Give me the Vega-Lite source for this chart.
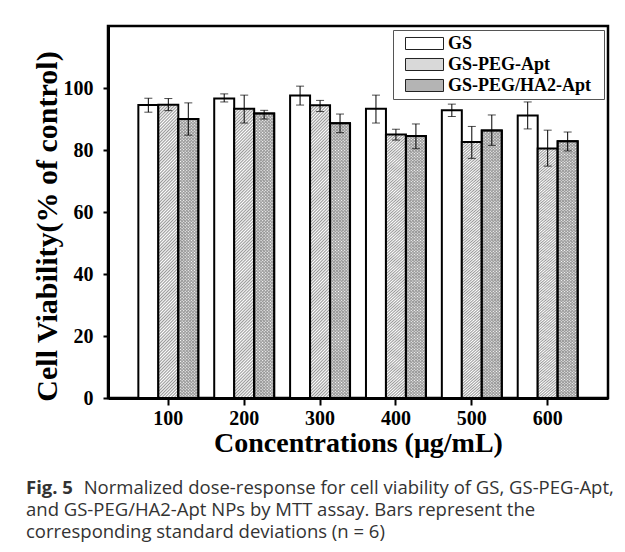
{
  "$schema": "https://vega.github.io/schema/vega-lite/v6.json",
  "width": 500,
  "height": 372,
  "autosize": "none",
  "padding": {"left": 108, "top": 26, "right": 17, "bottom": 154},
  "background": "white",
  "title": {
    "text": "Fig. 5",
    "subtitle": ["\u200b\u00a0\u00a0\u00a0\u00a0\u00a0\u00a0\u00a0\u00a0\u00a0\u00a0\u00a0\u00a0Normalized dose-response for cell viability of GS, GS-PEG-Apt,", "and GS-PEG/HA2-Apt NPs by MTT assay. Bars represent the", "corresponding standard deviations (n = 6)"],
    "orient": "bottom",
    "anchor": "start",
    "frame": "group",
    "dx": -82,
    "offset": 22,
    "font": "Open Sans",
    "fontSize": 18.5,
    "fontWeight": "bold",
    "color": "#333",
    "subtitleFont": "Open Sans",
    "subtitleFontSize": 18.5,
    "subtitleFontWeight": "normal",
    "subtitleColor": "#333",
    "subtitleLineHeight": 21.8,
    "subtitlePadding": -18.5
  },
  "datasets": {
    "d": [
      {"conc": "100", "series": "GS", "v": 94.5, "lo": 92.2, "hi": 96.7},
      {"conc": "100", "series": "GS-PEG-Apt", "v": 94.6, "lo": 92.7, "hi": 96.6},
      {"conc": "100", "series": "GS-PEG/HA2-Apt", "v": 90.0, "lo": 84.8, "hi": 95.2},
      {"conc": "200", "series": "GS", "v": 96.6, "lo": 95.5, "hi": 98.1},
      {"conc": "200", "series": "GS-PEG-Apt", "v": 93.3, "lo": 88.7, "hi": 97.7},
      {"conc": "200", "series": "GS-PEG/HA2-Apt", "v": 91.8, "lo": 90.0, "hi": 92.8},
      {"conc": "300", "series": "GS", "v": 97.6, "lo": 94.5, "hi": 100.6},
      {"conc": "300", "series": "GS-PEG-Apt", "v": 94.4, "lo": 92.4, "hi": 96.0},
      {"conc": "300", "series": "GS-PEG/HA2-Apt", "v": 88.6, "lo": 85.6, "hi": 91.6},
      {"conc": "400", "series": "GS", "v": 93.3, "lo": 88.7, "hi": 97.7},
      {"conc": "400", "series": "GS-PEG-Apt", "v": 85.0, "lo": 83.2, "hi": 86.7},
      {"conc": "400", "series": "GS-PEG/HA2-Apt", "v": 84.5, "lo": 80.4, "hi": 88.4},
      {"conc": "500", "series": "GS", "v": 92.8, "lo": 90.8, "hi": 94.8},
      {"conc": "500", "series": "GS-PEG-Apt", "v": 82.6, "lo": 77.3, "hi": 87.6},
      {"conc": "500", "series": "GS-PEG/HA2-Apt", "v": 86.3, "lo": 81.5, "hi": 91.3},
      {"conc": "600", "series": "GS", "v": 91.1, "lo": 86.8, "hi": 95.5},
      {"conc": "600", "series": "GS-PEG-Apt", "v": 80.5, "lo": 74.8, "hi": 86.4},
      {"conc": "600", "series": "GS-PEG/HA2-Apt", "v": 82.8, "lo": 79.7, "hi": 85.8}
    ]
  },
  "data": {"name": "d"},
  "encoding": {
    "x": {
      "field": "conc",
      "type": "nominal",
      "title": "Concentrations (μg/mL)",
      "scale": {"paddingInner": 0.21, "paddingOuter": 0.4},
      "axis": {"bandPosition": 0.5}
    },
    "xOffset": {
      "field": "series",
      "type": "nominal",
      "scale": {"domain": ["GS", "GS-PEG-Apt", "GS-PEG/HA2-Apt"], "paddingInner": 0, "paddingOuter": 0}
    }
  },
  "layer": [
    {
      "mark": {"type": "bar", "stroke": "black", "strokeWidth": 2},
      "encoding": {
        "y": {
          "field": "v",
          "type": "quantitative",
          "title": "Cell Viability(% of control)",
          "scale": {"domain": [0, 120], "nice": false},
          "axis": {"values": [0, 10, 20, 30, 40, 50, 60, 70, 80, 90, 100, 110], "labelExpr": "datum.value % 20 === 0 ? datum.label : ''", "titleY": 200}
        },
        "fill": {
          "condition": [
            {"test": "datum.series === 'GS-PEG-Apt'", "value": {"gradient": "linear", "x1": 0, "y1": 0, "x2": 0.0734, "y2": 1.064, "stops": [
{"offset":0,"color":"#fff"},{"offset":0.005,"color":"#999"},{"offset":0.01,"color":"#fff"},{"offset":0.015,"color":"#999"},{"offset":0.02,"color":"#fff"},{"offset":0.025,"color":"#999"},{"offset":0.03,"color":"#fff"},{"offset":0.035,"color":"#999"},{"offset":0.04,"color":"#fff"},{"offset":0.045,"color":"#999"},
{"offset":0.05,"color":"#fff"},{"offset":0.055,"color":"#999"},{"offset":0.06,"color":"#fff"},{"offset":0.065,"color":"#999"},{"offset":0.07,"color":"#fff"},{"offset":0.075,"color":"#999"},{"offset":0.08,"color":"#fff"},{"offset":0.085,"color":"#999"},{"offset":0.09,"color":"#fff"},{"offset":0.095,"color":"#999"},
{"offset":0.1,"color":"#fff"},{"offset":0.105,"color":"#999"},{"offset":0.11,"color":"#fff"},{"offset":0.115,"color":"#999"},{"offset":0.12,"color":"#fff"},{"offset":0.125,"color":"#999"},{"offset":0.13,"color":"#fff"},{"offset":0.135,"color":"#999"},{"offset":0.14,"color":"#fff"},{"offset":0.145,"color":"#999"},
{"offset":0.15,"color":"#fff"},{"offset":0.155,"color":"#999"},{"offset":0.16,"color":"#fff"},{"offset":0.165,"color":"#999"},{"offset":0.17,"color":"#fff"},{"offset":0.175,"color":"#999"},{"offset":0.18,"color":"#fff"},{"offset":0.185,"color":"#999"},{"offset":0.19,"color":"#fff"},{"offset":0.195,"color":"#999"},
{"offset":0.2,"color":"#fff"},{"offset":0.205,"color":"#999"},{"offset":0.21,"color":"#fff"},{"offset":0.215,"color":"#999"},{"offset":0.22,"color":"#fff"},{"offset":0.225,"color":"#999"},{"offset":0.23,"color":"#fff"},{"offset":0.235,"color":"#999"},{"offset":0.24,"color":"#fff"},{"offset":0.245,"color":"#999"},
{"offset":0.25,"color":"#fff"},{"offset":0.255,"color":"#999"},{"offset":0.26,"color":"#fff"},{"offset":0.265,"color":"#999"},{"offset":0.27,"color":"#fff"},{"offset":0.275,"color":"#999"},{"offset":0.28,"color":"#fff"},{"offset":0.285,"color":"#999"},{"offset":0.29,"color":"#fff"},{"offset":0.295,"color":"#999"},
{"offset":0.3,"color":"#fff"},{"offset":0.305,"color":"#999"},{"offset":0.31,"color":"#fff"},{"offset":0.315,"color":"#999"},{"offset":0.32,"color":"#fff"},{"offset":0.325,"color":"#999"},{"offset":0.33,"color":"#fff"},{"offset":0.335,"color":"#999"},{"offset":0.34,"color":"#fff"},{"offset":0.345,"color":"#999"},
{"offset":0.35,"color":"#fff"},{"offset":0.355,"color":"#999"},{"offset":0.36,"color":"#fff"},{"offset":0.365,"color":"#999"},{"offset":0.37,"color":"#fff"},{"offset":0.375,"color":"#999"},{"offset":0.38,"color":"#fff"},{"offset":0.385,"color":"#999"},{"offset":0.39,"color":"#fff"},{"offset":0.395,"color":"#999"},
{"offset":0.4,"color":"#fff"},{"offset":0.405,"color":"#999"},{"offset":0.41,"color":"#fff"},{"offset":0.415,"color":"#999"},{"offset":0.42,"color":"#fff"},{"offset":0.425,"color":"#999"},{"offset":0.43,"color":"#fff"},{"offset":0.435,"color":"#999"},{"offset":0.44,"color":"#fff"},{"offset":0.445,"color":"#999"},
{"offset":0.45,"color":"#fff"},{"offset":0.455,"color":"#999"},{"offset":0.46,"color":"#fff"},{"offset":0.465,"color":"#999"},{"offset":0.47,"color":"#fff"},{"offset":0.475,"color":"#999"},{"offset":0.48,"color":"#fff"},{"offset":0.485,"color":"#999"},{"offset":0.49,"color":"#fff"},{"offset":0.495,"color":"#999"},
{"offset":0.5,"color":"#fff"},{"offset":0.505,"color":"#999"},{"offset":0.51,"color":"#fff"},{"offset":0.515,"color":"#999"},{"offset":0.52,"color":"#fff"},{"offset":0.525,"color":"#999"},{"offset":0.53,"color":"#fff"},{"offset":0.535,"color":"#999"},{"offset":0.54,"color":"#fff"},{"offset":0.545,"color":"#999"},
{"offset":0.55,"color":"#fff"},{"offset":0.555,"color":"#999"},{"offset":0.56,"color":"#fff"},{"offset":0.565,"color":"#999"},{"offset":0.57,"color":"#fff"},{"offset":0.575,"color":"#999"},{"offset":0.58,"color":"#fff"},{"offset":0.585,"color":"#999"},{"offset":0.59,"color":"#fff"},{"offset":0.595,"color":"#999"},
{"offset":0.6,"color":"#fff"},{"offset":0.605,"color":"#999"},{"offset":0.61,"color":"#fff"},{"offset":0.615,"color":"#999"},{"offset":0.62,"color":"#fff"},{"offset":0.625,"color":"#999"},{"offset":0.63,"color":"#fff"},{"offset":0.635,"color":"#999"},{"offset":0.64,"color":"#fff"},{"offset":0.645,"color":"#999"},
{"offset":0.65,"color":"#fff"},{"offset":0.655,"color":"#999"},{"offset":0.66,"color":"#fff"},{"offset":0.665,"color":"#999"},{"offset":0.67,"color":"#fff"},{"offset":0.675,"color":"#999"},{"offset":0.68,"color":"#fff"},{"offset":0.685,"color":"#999"},{"offset":0.69,"color":"#fff"},{"offset":0.695,"color":"#999"},
{"offset":0.7,"color":"#fff"},{"offset":0.705,"color":"#999"},{"offset":0.71,"color":"#fff"},{"offset":0.715,"color":"#999"},{"offset":0.72,"color":"#fff"},{"offset":0.725,"color":"#999"},{"offset":0.73,"color":"#fff"},{"offset":0.735,"color":"#999"},{"offset":0.74,"color":"#fff"},{"offset":0.745,"color":"#999"},
{"offset":0.75,"color":"#fff"},{"offset":0.755,"color":"#999"},{"offset":0.76,"color":"#fff"},{"offset":0.765,"color":"#999"},{"offset":0.77,"color":"#fff"},{"offset":0.775,"color":"#999"},{"offset":0.78,"color":"#fff"},{"offset":0.785,"color":"#999"},{"offset":0.79,"color":"#fff"},{"offset":0.795,"color":"#999"},
{"offset":0.8,"color":"#fff"},{"offset":0.805,"color":"#999"},{"offset":0.81,"color":"#fff"},{"offset":0.815,"color":"#999"},{"offset":0.82,"color":"#fff"},{"offset":0.825,"color":"#999"},{"offset":0.83,"color":"#fff"},{"offset":0.835,"color":"#999"},{"offset":0.84,"color":"#fff"},{"offset":0.845,"color":"#999"},
{"offset":0.85,"color":"#fff"},{"offset":0.855,"color":"#999"},{"offset":0.86,"color":"#fff"},{"offset":0.865,"color":"#999"},{"offset":0.87,"color":"#fff"},{"offset":0.875,"color":"#999"},{"offset":0.88,"color":"#fff"},{"offset":0.885,"color":"#999"},{"offset":0.89,"color":"#fff"},{"offset":0.895,"color":"#999"},
{"offset":0.9,"color":"#fff"},{"offset":0.905,"color":"#999"},{"offset":0.91,"color":"#fff"},{"offset":0.915,"color":"#999"},{"offset":0.92,"color":"#fff"},{"offset":0.925,"color":"#999"},{"offset":0.93,"color":"#fff"},{"offset":0.935,"color":"#999"},{"offset":0.94,"color":"#fff"},{"offset":0.945,"color":"#999"},
{"offset":0.95,"color":"#fff"},{"offset":0.955,"color":"#999"},{"offset":0.96,"color":"#fff"},{"offset":0.965,"color":"#999"},{"offset":0.97,"color":"#fff"},{"offset":0.975,"color":"#999"},{"offset":0.98,"color":"#fff"},{"offset":0.985,"color":"#999"},{"offset":0.99,"color":"#fff"},{"offset":0.995,"color":"#999"},
{"offset":1,"color":"#fff"}]}},
            {"test": "datum.series === 'GS-PEG/HA2-Apt'", "value": {"gradient": "linear", "x1": 0, "y1": 0, "x2": 0.0734, "y2": 1.064, "stops": [
{"offset":0,"color":"#fff"},{"offset":0.005,"color":"#999"},{"offset":0.01,"color":"#fff"},{"offset":0.015,"color":"#999"},{"offset":0.02,"color":"#fff"},{"offset":0.025,"color":"#999"},{"offset":0.03,"color":"#fff"},{"offset":0.035,"color":"#999"},{"offset":0.04,"color":"#fff"},{"offset":0.045,"color":"#999"},
{"offset":0.05,"color":"#fff"},{"offset":0.055,"color":"#999"},{"offset":0.06,"color":"#fff"},{"offset":0.065,"color":"#999"},{"offset":0.07,"color":"#fff"},{"offset":0.075,"color":"#999"},{"offset":0.08,"color":"#fff"},{"offset":0.085,"color":"#999"},{"offset":0.09,"color":"#fff"},{"offset":0.095,"color":"#999"},
{"offset":0.1,"color":"#fff"},{"offset":0.105,"color":"#999"},{"offset":0.11,"color":"#fff"},{"offset":0.115,"color":"#999"},{"offset":0.12,"color":"#fff"},{"offset":0.125,"color":"#999"},{"offset":0.13,"color":"#fff"},{"offset":0.135,"color":"#999"},{"offset":0.14,"color":"#fff"},{"offset":0.145,"color":"#999"},
{"offset":0.15,"color":"#fff"},{"offset":0.155,"color":"#999"},{"offset":0.16,"color":"#fff"},{"offset":0.165,"color":"#999"},{"offset":0.17,"color":"#fff"},{"offset":0.175,"color":"#999"},{"offset":0.18,"color":"#fff"},{"offset":0.185,"color":"#999"},{"offset":0.19,"color":"#fff"},{"offset":0.195,"color":"#999"},
{"offset":0.2,"color":"#fff"},{"offset":0.205,"color":"#999"},{"offset":0.21,"color":"#fff"},{"offset":0.215,"color":"#999"},{"offset":0.22,"color":"#fff"},{"offset":0.225,"color":"#999"},{"offset":0.23,"color":"#fff"},{"offset":0.235,"color":"#999"},{"offset":0.24,"color":"#fff"},{"offset":0.245,"color":"#999"},
{"offset":0.25,"color":"#fff"},{"offset":0.255,"color":"#999"},{"offset":0.26,"color":"#fff"},{"offset":0.265,"color":"#999"},{"offset":0.27,"color":"#fff"},{"offset":0.275,"color":"#999"},{"offset":0.28,"color":"#fff"},{"offset":0.285,"color":"#999"},{"offset":0.29,"color":"#fff"},{"offset":0.295,"color":"#999"},
{"offset":0.3,"color":"#fff"},{"offset":0.305,"color":"#999"},{"offset":0.31,"color":"#fff"},{"offset":0.315,"color":"#999"},{"offset":0.32,"color":"#fff"},{"offset":0.325,"color":"#999"},{"offset":0.33,"color":"#fff"},{"offset":0.335,"color":"#999"},{"offset":0.34,"color":"#fff"},{"offset":0.345,"color":"#999"},
{"offset":0.35,"color":"#fff"},{"offset":0.355,"color":"#999"},{"offset":0.36,"color":"#fff"},{"offset":0.365,"color":"#999"},{"offset":0.37,"color":"#fff"},{"offset":0.375,"color":"#999"},{"offset":0.38,"color":"#fff"},{"offset":0.385,"color":"#999"},{"offset":0.39,"color":"#fff"},{"offset":0.395,"color":"#999"},
{"offset":0.4,"color":"#fff"},{"offset":0.405,"color":"#999"},{"offset":0.41,"color":"#fff"},{"offset":0.415,"color":"#999"},{"offset":0.42,"color":"#fff"},{"offset":0.425,"color":"#999"},{"offset":0.43,"color":"#fff"},{"offset":0.435,"color":"#999"},{"offset":0.44,"color":"#fff"},{"offset":0.445,"color":"#999"},
{"offset":0.45,"color":"#fff"},{"offset":0.455,"color":"#999"},{"offset":0.46,"color":"#fff"},{"offset":0.465,"color":"#999"},{"offset":0.47,"color":"#fff"},{"offset":0.475,"color":"#999"},{"offset":0.48,"color":"#fff"},{"offset":0.485,"color":"#999"},{"offset":0.49,"color":"#fff"},{"offset":0.495,"color":"#999"},
{"offset":0.5,"color":"#fff"},{"offset":0.505,"color":"#999"},{"offset":0.51,"color":"#fff"},{"offset":0.515,"color":"#999"},{"offset":0.52,"color":"#fff"},{"offset":0.525,"color":"#999"},{"offset":0.53,"color":"#fff"},{"offset":0.535,"color":"#999"},{"offset":0.54,"color":"#fff"},{"offset":0.545,"color":"#999"},
{"offset":0.55,"color":"#fff"},{"offset":0.555,"color":"#999"},{"offset":0.56,"color":"#fff"},{"offset":0.565,"color":"#999"},{"offset":0.57,"color":"#fff"},{"offset":0.575,"color":"#999"},{"offset":0.58,"color":"#fff"},{"offset":0.585,"color":"#999"},{"offset":0.59,"color":"#fff"},{"offset":0.595,"color":"#999"},
{"offset":0.6,"color":"#fff"},{"offset":0.605,"color":"#999"},{"offset":0.61,"color":"#fff"},{"offset":0.615,"color":"#999"},{"offset":0.62,"color":"#fff"},{"offset":0.625,"color":"#999"},{"offset":0.63,"color":"#fff"},{"offset":0.635,"color":"#999"},{"offset":0.64,"color":"#fff"},{"offset":0.645,"color":"#999"},
{"offset":0.65,"color":"#fff"},{"offset":0.655,"color":"#999"},{"offset":0.66,"color":"#fff"},{"offset":0.665,"color":"#999"},{"offset":0.67,"color":"#fff"},{"offset":0.675,"color":"#999"},{"offset":0.68,"color":"#fff"},{"offset":0.685,"color":"#999"},{"offset":0.69,"color":"#fff"},{"offset":0.695,"color":"#999"},
{"offset":0.7,"color":"#fff"},{"offset":0.705,"color":"#999"},{"offset":0.71,"color":"#fff"},{"offset":0.715,"color":"#999"},{"offset":0.72,"color":"#fff"},{"offset":0.725,"color":"#999"},{"offset":0.73,"color":"#fff"},{"offset":0.735,"color":"#999"},{"offset":0.74,"color":"#fff"},{"offset":0.745,"color":"#999"},
{"offset":0.75,"color":"#fff"},{"offset":0.755,"color":"#999"},{"offset":0.76,"color":"#fff"},{"offset":0.765,"color":"#999"},{"offset":0.77,"color":"#fff"},{"offset":0.775,"color":"#999"},{"offset":0.78,"color":"#fff"},{"offset":0.785,"color":"#999"},{"offset":0.79,"color":"#fff"},{"offset":0.795,"color":"#999"},
{"offset":0.8,"color":"#fff"},{"offset":0.805,"color":"#999"},{"offset":0.81,"color":"#fff"},{"offset":0.815,"color":"#999"},{"offset":0.82,"color":"#fff"},{"offset":0.825,"color":"#999"},{"offset":0.83,"color":"#fff"},{"offset":0.835,"color":"#999"},{"offset":0.84,"color":"#fff"},{"offset":0.845,"color":"#999"},
{"offset":0.85,"color":"#fff"},{"offset":0.855,"color":"#999"},{"offset":0.86,"color":"#fff"},{"offset":0.865,"color":"#999"},{"offset":0.87,"color":"#fff"},{"offset":0.875,"color":"#999"},{"offset":0.88,"color":"#fff"},{"offset":0.885,"color":"#999"},{"offset":0.89,"color":"#fff"},{"offset":0.895,"color":"#999"},
{"offset":0.9,"color":"#fff"},{"offset":0.905,"color":"#999"},{"offset":0.91,"color":"#fff"},{"offset":0.915,"color":"#999"},{"offset":0.92,"color":"#fff"},{"offset":0.925,"color":"#999"},{"offset":0.93,"color":"#fff"},{"offset":0.935,"color":"#999"},{"offset":0.94,"color":"#fff"},{"offset":0.945,"color":"#999"},
{"offset":0.95,"color":"#fff"},{"offset":0.955,"color":"#999"},{"offset":0.96,"color":"#fff"},{"offset":0.965,"color":"#999"},{"offset":0.97,"color":"#fff"},{"offset":0.975,"color":"#999"},{"offset":0.98,"color":"#fff"},{"offset":0.985,"color":"#999"},{"offset":0.99,"color":"#fff"},{"offset":0.995,"color":"#999"},
{"offset":1,"color":"#fff"}]}}
          ],
          "value": "white"
        }
      }
    },
    {
      "transform": [{"filter": "datum.series === 'GS-PEG/HA2-Apt'"}],
      "mark": {"type": "bar", "stroke": "black", "strokeWidth": 2, "fill": {"gradient": "linear", "x1": 0, "y1": 1, "x2": 0.0734, "y2": -0.064, "stops": [
{"offset":0,"color":"rgba(153,153,153,0)"},{"offset":0.005,"color":"#999"},{"offset":0.01,"color":"rgba(153,153,153,0)"},{"offset":0.015,"color":"#999"},{"offset":0.02,"color":"rgba(153,153,153,0)"},{"offset":0.025,"color":"#999"},{"offset":0.03,"color":"rgba(153,153,153,0)"},{"offset":0.035,"color":"#999"},{"offset":0.04,"color":"rgba(153,153,153,0)"},{"offset":0.045,"color":"#999"},
{"offset":0.05,"color":"rgba(153,153,153,0)"},{"offset":0.055,"color":"#999"},{"offset":0.06,"color":"rgba(153,153,153,0)"},{"offset":0.065,"color":"#999"},{"offset":0.07,"color":"rgba(153,153,153,0)"},{"offset":0.075,"color":"#999"},{"offset":0.08,"color":"rgba(153,153,153,0)"},{"offset":0.085,"color":"#999"},{"offset":0.09,"color":"rgba(153,153,153,0)"},{"offset":0.095,"color":"#999"},
{"offset":0.1,"color":"rgba(153,153,153,0)"},{"offset":0.105,"color":"#999"},{"offset":0.11,"color":"rgba(153,153,153,0)"},{"offset":0.115,"color":"#999"},{"offset":0.12,"color":"rgba(153,153,153,0)"},{"offset":0.125,"color":"#999"},{"offset":0.13,"color":"rgba(153,153,153,0)"},{"offset":0.135,"color":"#999"},{"offset":0.14,"color":"rgba(153,153,153,0)"},{"offset":0.145,"color":"#999"},
{"offset":0.15,"color":"rgba(153,153,153,0)"},{"offset":0.155,"color":"#999"},{"offset":0.16,"color":"rgba(153,153,153,0)"},{"offset":0.165,"color":"#999"},{"offset":0.17,"color":"rgba(153,153,153,0)"},{"offset":0.175,"color":"#999"},{"offset":0.18,"color":"rgba(153,153,153,0)"},{"offset":0.185,"color":"#999"},{"offset":0.19,"color":"rgba(153,153,153,0)"},{"offset":0.195,"color":"#999"},
{"offset":0.2,"color":"rgba(153,153,153,0)"},{"offset":0.205,"color":"#999"},{"offset":0.21,"color":"rgba(153,153,153,0)"},{"offset":0.215,"color":"#999"},{"offset":0.22,"color":"rgba(153,153,153,0)"},{"offset":0.225,"color":"#999"},{"offset":0.23,"color":"rgba(153,153,153,0)"},{"offset":0.235,"color":"#999"},{"offset":0.24,"color":"rgba(153,153,153,0)"},{"offset":0.245,"color":"#999"},
{"offset":0.25,"color":"rgba(153,153,153,0)"},{"offset":0.255,"color":"#999"},{"offset":0.26,"color":"rgba(153,153,153,0)"},{"offset":0.265,"color":"#999"},{"offset":0.27,"color":"rgba(153,153,153,0)"},{"offset":0.275,"color":"#999"},{"offset":0.28,"color":"rgba(153,153,153,0)"},{"offset":0.285,"color":"#999"},{"offset":0.29,"color":"rgba(153,153,153,0)"},{"offset":0.295,"color":"#999"},
{"offset":0.3,"color":"rgba(153,153,153,0)"},{"offset":0.305,"color":"#999"},{"offset":0.31,"color":"rgba(153,153,153,0)"},{"offset":0.315,"color":"#999"},{"offset":0.32,"color":"rgba(153,153,153,0)"},{"offset":0.325,"color":"#999"},{"offset":0.33,"color":"rgba(153,153,153,0)"},{"offset":0.335,"color":"#999"},{"offset":0.34,"color":"rgba(153,153,153,0)"},{"offset":0.345,"color":"#999"},
{"offset":0.35,"color":"rgba(153,153,153,0)"},{"offset":0.355,"color":"#999"},{"offset":0.36,"color":"rgba(153,153,153,0)"},{"offset":0.365,"color":"#999"},{"offset":0.37,"color":"rgba(153,153,153,0)"},{"offset":0.375,"color":"#999"},{"offset":0.38,"color":"rgba(153,153,153,0)"},{"offset":0.385,"color":"#999"},{"offset":0.39,"color":"rgba(153,153,153,0)"},{"offset":0.395,"color":"#999"},
{"offset":0.4,"color":"rgba(153,153,153,0)"},{"offset":0.405,"color":"#999"},{"offset":0.41,"color":"rgba(153,153,153,0)"},{"offset":0.415,"color":"#999"},{"offset":0.42,"color":"rgba(153,153,153,0)"},{"offset":0.425,"color":"#999"},{"offset":0.43,"color":"rgba(153,153,153,0)"},{"offset":0.435,"color":"#999"},{"offset":0.44,"color":"rgba(153,153,153,0)"},{"offset":0.445,"color":"#999"},
{"offset":0.45,"color":"rgba(153,153,153,0)"},{"offset":0.455,"color":"#999"},{"offset":0.46,"color":"rgba(153,153,153,0)"},{"offset":0.465,"color":"#999"},{"offset":0.47,"color":"rgba(153,153,153,0)"},{"offset":0.475,"color":"#999"},{"offset":0.48,"color":"rgba(153,153,153,0)"},{"offset":0.485,"color":"#999"},{"offset":0.49,"color":"rgba(153,153,153,0)"},{"offset":0.495,"color":"#999"},
{"offset":0.5,"color":"rgba(153,153,153,0)"},{"offset":0.505,"color":"#999"},{"offset":0.51,"color":"rgba(153,153,153,0)"},{"offset":0.515,"color":"#999"},{"offset":0.52,"color":"rgba(153,153,153,0)"},{"offset":0.525,"color":"#999"},{"offset":0.53,"color":"rgba(153,153,153,0)"},{"offset":0.535,"color":"#999"},{"offset":0.54,"color":"rgba(153,153,153,0)"},{"offset":0.545,"color":"#999"},
{"offset":0.55,"color":"rgba(153,153,153,0)"},{"offset":0.555,"color":"#999"},{"offset":0.56,"color":"rgba(153,153,153,0)"},{"offset":0.565,"color":"#999"},{"offset":0.57,"color":"rgba(153,153,153,0)"},{"offset":0.575,"color":"#999"},{"offset":0.58,"color":"rgba(153,153,153,0)"},{"offset":0.585,"color":"#999"},{"offset":0.59,"color":"rgba(153,153,153,0)"},{"offset":0.595,"color":"#999"},
{"offset":0.6,"color":"rgba(153,153,153,0)"},{"offset":0.605,"color":"#999"},{"offset":0.61,"color":"rgba(153,153,153,0)"},{"offset":0.615,"color":"#999"},{"offset":0.62,"color":"rgba(153,153,153,0)"},{"offset":0.625,"color":"#999"},{"offset":0.63,"color":"rgba(153,153,153,0)"},{"offset":0.635,"color":"#999"},{"offset":0.64,"color":"rgba(153,153,153,0)"},{"offset":0.645,"color":"#999"},
{"offset":0.65,"color":"rgba(153,153,153,0)"},{"offset":0.655,"color":"#999"},{"offset":0.66,"color":"rgba(153,153,153,0)"},{"offset":0.665,"color":"#999"},{"offset":0.67,"color":"rgba(153,153,153,0)"},{"offset":0.675,"color":"#999"},{"offset":0.68,"color":"rgba(153,153,153,0)"},{"offset":0.685,"color":"#999"},{"offset":0.69,"color":"rgba(153,153,153,0)"},{"offset":0.695,"color":"#999"},
{"offset":0.7,"color":"rgba(153,153,153,0)"},{"offset":0.705,"color":"#999"},{"offset":0.71,"color":"rgba(153,153,153,0)"},{"offset":0.715,"color":"#999"},{"offset":0.72,"color":"rgba(153,153,153,0)"},{"offset":0.725,"color":"#999"},{"offset":0.73,"color":"rgba(153,153,153,0)"},{"offset":0.735,"color":"#999"},{"offset":0.74,"color":"rgba(153,153,153,0)"},{"offset":0.745,"color":"#999"},
{"offset":0.75,"color":"rgba(153,153,153,0)"},{"offset":0.755,"color":"#999"},{"offset":0.76,"color":"rgba(153,153,153,0)"},{"offset":0.765,"color":"#999"},{"offset":0.77,"color":"rgba(153,153,153,0)"},{"offset":0.775,"color":"#999"},{"offset":0.78,"color":"rgba(153,153,153,0)"},{"offset":0.785,"color":"#999"},{"offset":0.79,"color":"rgba(153,153,153,0)"},{"offset":0.795,"color":"#999"},
{"offset":0.8,"color":"rgba(153,153,153,0)"},{"offset":0.805,"color":"#999"},{"offset":0.81,"color":"rgba(153,153,153,0)"},{"offset":0.815,"color":"#999"},{"offset":0.82,"color":"rgba(153,153,153,0)"},{"offset":0.825,"color":"#999"},{"offset":0.83,"color":"rgba(153,153,153,0)"},{"offset":0.835,"color":"#999"},{"offset":0.84,"color":"rgba(153,153,153,0)"},{"offset":0.845,"color":"#999"},
{"offset":0.85,"color":"rgba(153,153,153,0)"},{"offset":0.855,"color":"#999"},{"offset":0.86,"color":"rgba(153,153,153,0)"},{"offset":0.865,"color":"#999"},{"offset":0.87,"color":"rgba(153,153,153,0)"},{"offset":0.875,"color":"#999"},{"offset":0.88,"color":"rgba(153,153,153,0)"},{"offset":0.885,"color":"#999"},{"offset":0.89,"color":"rgba(153,153,153,0)"},{"offset":0.895,"color":"#999"},
{"offset":0.9,"color":"rgba(153,153,153,0)"},{"offset":0.905,"color":"#999"},{"offset":0.91,"color":"rgba(153,153,153,0)"},{"offset":0.915,"color":"#999"},{"offset":0.92,"color":"rgba(153,153,153,0)"},{"offset":0.925,"color":"#999"},{"offset":0.93,"color":"rgba(153,153,153,0)"},{"offset":0.935,"color":"#999"},{"offset":0.94,"color":"rgba(153,153,153,0)"},{"offset":0.945,"color":"#999"},
{"offset":0.95,"color":"rgba(153,153,153,0)"},{"offset":0.955,"color":"#999"},{"offset":0.96,"color":"rgba(153,153,153,0)"},{"offset":0.965,"color":"#999"},{"offset":0.97,"color":"rgba(153,153,153,0)"},{"offset":0.975,"color":"#999"},{"offset":0.98,"color":"rgba(153,153,153,0)"},{"offset":0.985,"color":"#999"},{"offset":0.99,"color":"rgba(153,153,153,0)"},{"offset":0.995,"color":"#999"},
{"offset":1,"color":"rgba(153,153,153,0)"}]}},
      "encoding": {
        "y": {"field": "v", "type": "quantitative", "title": "Cell Viability(% of control)", "scale": {"domain": [0, 120], "nice": false}}
      }
    },
    {
      "mark": {"type": "rule", "color": "black", "strokeWidth": 1},
      "encoding": {
        "y": {"field": "lo", "type": "quantitative", "title": "Cell Viability(% of control)", "scale": {"domain": [0, 120], "nice": false}},
        "y2": {"field": "hi"}
      }
    },
    {
      "mark": {"type": "tick", "color": "black", "thickness": 1, "size": 8},
      "encoding": {
        "y": {"field": "lo", "type": "quantitative", "title": "Cell Viability(% of control)", "scale": {"domain": [0, 120], "nice": false}}
      }
    },
    {
      "mark": {"type": "tick", "color": "black", "thickness": 1, "size": 8},
      "encoding": {
        "y": {"field": "hi", "type": "quantitative", "title": "Cell Viability(% of control)", "scale": {"domain": [0, 120], "nice": false}}
      }
    },
    {
      "data": {"values": []},
      "mark": {"type": "bar"},
      "encoding": {
        "fill": {
          "field": "series",
          "type": "nominal",
          "scale": {
            "domain": ["GS", "GS-PEG-Apt", "GS-PEG/HA2-Apt"],
            "range": ["white", "#d9d9d9", "#b4b4b4"]
          },
          "legend": {
            "orient": "top-right",
            "offset": 4,
            "title": null,
            "labelExpr": "datum.label + '\u00a0\u00a0\u200b'"
          }
        },
        "stroke": {
          "field": "series",
          "type": "nominal",
          "scale": {
            "domain": ["GS", "GS-PEG-Apt", "GS-PEG/HA2-Apt"],
            "range": ["#222", "#222", "#222"]
          },
          "legend": {
            "orient": "top-right",
            "offset": 4,
            "title": null,
            "labelExpr": "datum.label + '\u00a0\u00a0\u200b'"
          }
        }
      }
    }
  ],
  "config": {
    "view": {"stroke": "black", "strokeWidth": 2.5},
    "axis": {
      "grid": false,
      "domainColor": "black",
      "domainWidth": 3,
      "tickColor": "black",
      "tickWidth": 2,
      "labelFont": "Liberation Serif",
      "labelFontWeight": "bold",
      "labelFontSize": 20,
      "labelColor": "black",
      "titleFont": "Liberation Serif",
      "titleFontWeight": "bold",
      "titleColor": "black"
    },
    "axisX": {"labelAngle": 0, "tickSize": 7, "labelPadding": 3, "titleFontSize": 28, "titlePadding": 1},
    "axisY": {"tickSize": 5, "labelPadding": 10, "titleFontSize": 30, "titlePadding": 1},
    "legend": {
      "strokeColor": "#555",
      "fillColor": "white",
      "padding": 3,
      "symbolType": "M-1,-0.316H1V0.316H-1Z",
      "symbolSize": 1444,
      "symbolStrokeWidth": 1,
      "symbolOffset": 9,
      "labelOffset": 4,
      "labelFont": "Liberation Serif",
      "labelFontWeight": "bold",
      "labelFontSize": 18,
      "labelColor": "black",
      "labelLimit": 400,
      "clipHeight": 21,
      "rowPadding": 0
    }
  }
}
